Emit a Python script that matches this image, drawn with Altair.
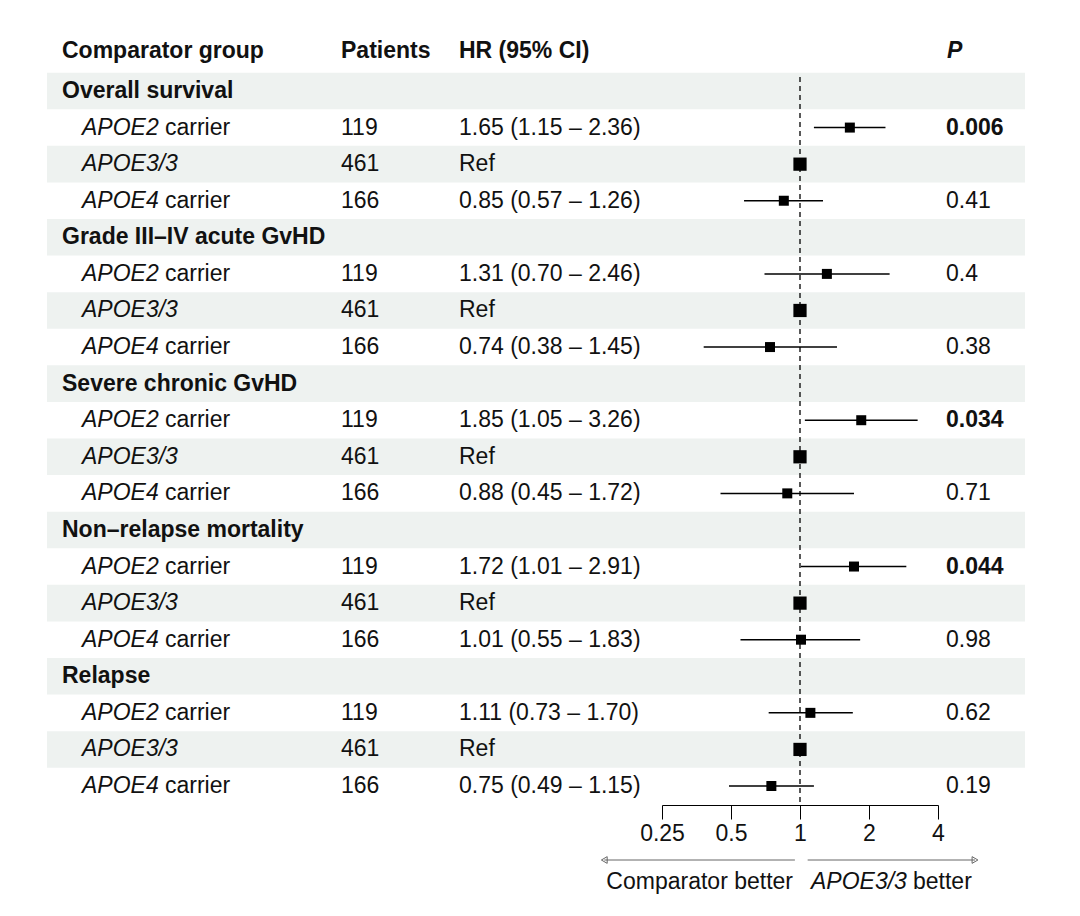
import altair as alt
import pandas as pd

# ---------------- data ----------------
groups = ["Overall survival", "Grade III\u2013IV acute GvHD", "Severe chronic GvHD",
          "Non\u2013relapse mortality", "Relapse"]
sub_italic = ["APOE2", "APOE3/3", "APOE4"]
sub_suffix = ["carrier", "", "carrier"]
patients = [119, 461, 166]

hr = [[1.65, 1.00, 0.85], [1.31, 1.00, 0.74], [1.85, 1.00, 0.88], [1.72, 1.00, 1.01], [1.11, 1.00, 0.75]]
lo = [[1.15, None, 0.57], [0.70, None, 0.38], [1.05, None, 0.45], [1.01, None, 0.55], [0.73, None, 0.49]]
hi = [[2.36, None, 1.26], [2.46, None, 1.45], [3.26, None, 1.72], [2.91, None, 1.83], [1.70, None, 1.15]]
hr_text = [["1.65 (1.15 \u2013 2.36)", "Ref", "0.85 (0.57 \u2013 1.26)"],
           ["1.31 (0.70 \u2013 2.46)", "Ref", "0.74 (0.38 \u2013 1.45)"],
           ["1.85 (1.05 \u2013 3.26)", "Ref", "0.88 (0.45 \u2013 1.72)"],
           ["1.72 (1.01 \u2013 2.91)", "Ref", "1.01 (0.55 \u2013 1.83)"],
           ["1.11 (0.73 \u2013 1.70)", "Ref", "0.75 (0.49 \u2013 1.15)"]]
p_text = [["0.006", "", "0.41"], ["0.4", "", "0.38"], ["0.034", "", "0.71"],
          ["0.044", "", "0.98"], ["0.62", "", "0.19"]]
p_bold = [[True, False, False], [False, False, False], [True, False, False],
          [True, False, False], [False, False, False]]

col_headers = ["Comparator group", "Patients", "HR (95% CI)"]
axis_ticks = [0.25, 0.5, 1, 2, 4]

# ---------------- tables ----------------
head_rows = []
sub_rows = []
r = 1
for k, g in enumerate(groups):
    head_rows.append({"row": r, "label": g})
    r += 1
    for j in range(3):
        sub_rows.append({
            "row": r, "ital": sub_italic[j], "suffix": sub_suffix[j],
            "n": str(patients[j]), "hrt": hr_text[k][j], "p": p_text[k][j],
            "bold": p_bold[k][j],
            "hr": hr[k][j], "lo": lo[k][j], "hi": hi[k][j], "ref": j == 1,
        })
        r += 1
heads = pd.DataFrame(head_rows)
subs = pd.DataFrame(sub_rows)
stripes = pd.DataFrame({"row": [i for i in range(1, r) if i % 2 == 1]})
stripes["y0"] = stripes["row"] - 0.5
stripes["y1"] = stripes["row"] + 0.5
ci = subs[subs["lo"].notna()].copy()
p_b = subs[subs["bold"]].copy()
p_n = subs[~subs["bold"]].copy()

FONT = "Liberation Sans"
FS = 23
TXT = "#111111"

yscale = alt.Scale(domain=[-1.269, 20.519], range=[0, 797], nice=False, zero=False)
xscale = alt.Scale(type="log", base=2, domain=[0.25, 4], range=[654, 930], nice=False)
xaxis = alt.Axis(values=axis_ticks, format="~g", title=None, grid=False,
                 domainColor="black", domainWidth=1, tickColor="black", tickWidth=1,
                 tickSize=14, labelFontSize=FS, labelFont=FONT, labelColor=TXT,
                 labelPadding=3, labelOverlap=False, labelFlush=False)
X = lambda f: alt.X(f, scale=xscale, axis=xaxis)
Y = lambda f: alt.Y(f, scale=yscale, axis=None)


def txt(df, xpos, field, **kw):
    return alt.Chart(df).mark_text(font=FONT, fontSize=FS, align="left", baseline="middle",
                                   color=TXT, **kw).encode(
        y=Y("row:Q"), x=alt.value(xpos), text=f"{field}:N")


stripe_layer = alt.Chart(stripes).mark_rect(color="#eef2f0").encode(
    y=Y("y0:Q"), y2="y1:Q", x=alt.value(39), x2=alt.value(1017))

hdr_df = [pd.DataFrame({"row": [-0.093], "label": [h]}) for h in col_headers]
hdr_layers = [txt(hdr_df[0], 54, "label", fontWeight="bold"),
              txt(hdr_df[1], 333, "label", fontWeight="bold"),
              txt(hdr_df[2], 451, "label", fontWeight="bold"),
              txt(pd.DataFrame({"row": [-0.093], "label": ["P"]}), 939, "label",
                  fontWeight="bold", fontStyle="italic")]

group_layer = txt(heads, 54, "label", fontWeight="bold")
ital_layer = txt(subs, 74, "ital", fontStyle="italic")
suffix_layer = txt(subs, 157, "suffix")
n_layer = txt(subs, 333, "n")
hr_layer = txt(subs, 451, "hrt")
pb_layer = txt(p_b, 938, "p", fontWeight="bold")
pn_layer = txt(p_n, 938, "p")

dash_layer = alt.Chart(pd.DataFrame({"a": [0]})).transform_calculate(
    v="1", y0="0.62", y1="20.5").mark_rule(
    color="black", strokeDash=[5, 4], strokeWidth=1.3).encode(
    x=X("v:Q"), y=Y("y0:Q"), y2="y1:Q")

ci_layer = alt.Chart(ci).mark_rule(color="black", strokeWidth=1.5).encode(
    x=X("lo:Q"), x2="hi:Q", y=Y("row:Q"))

pt_layer = alt.Chart(subs).mark_point(shape="square", filled=True, color="black", opacity=1).encode(
    x=X("hr:Q"), y=Y("row:Q"),
    size=alt.Size("ref:N", scale=alt.Scale(domain=[False, True], range=[100, 175]), legend=None))

# direction arrows
arr = pd.DataFrame({"x0": [0.95, 1.08], "x1": [0.14, 5.8], "shape": ["triangle-left", "triangle-right"]})
arrow_lines = alt.Chart(arr).mark_rule(color="#666666", strokeWidth=1).encode(
    x=X("x0:Q"), x2="x1:Q", y=alt.value(852))
arrow_heads = alt.Chart(arr).mark_point(filled=False, color="#666666", size=45, strokeWidth=1, opacity=1).encode(
    x=X("x1:Q"), y=alt.value(852),
    shape=alt.Shape("shape:N", scale=None, legend=None))


def lab(t, xpos, align, **kw):
    return alt.Chart(pd.DataFrame({"t": [t]})).mark_text(
        font=FONT, fontSize=FS, align=align, baseline="middle", color=TXT, **kw).encode(
        x=alt.value(xpos), y=alt.value(874), text="t:N")


lab_left = lab("Comparator better", 785, "right")
lab_r1 = lab("APOE3/3", 803, "left", fontStyle="italic")
lab_r2 = lab("better", 905, "left")

chart = alt.layer(
    stripe_layer, *hdr_layers, group_layer, ital_layer, suffix_layer, n_layer,
    hr_layer, pb_layer, pn_layer, dash_layer, ci_layer, pt_layer, arrow_lines, arrow_heads,
    lab_left, lab_r1, lab_r2
).properties(width=1064, height=797, padding=0, background="white").configure_view(
    stroke=None).resolve_scale(x="shared", y="shared")

chart.save("out.html", embed_options={"renderer": "svg", "actions": False})
